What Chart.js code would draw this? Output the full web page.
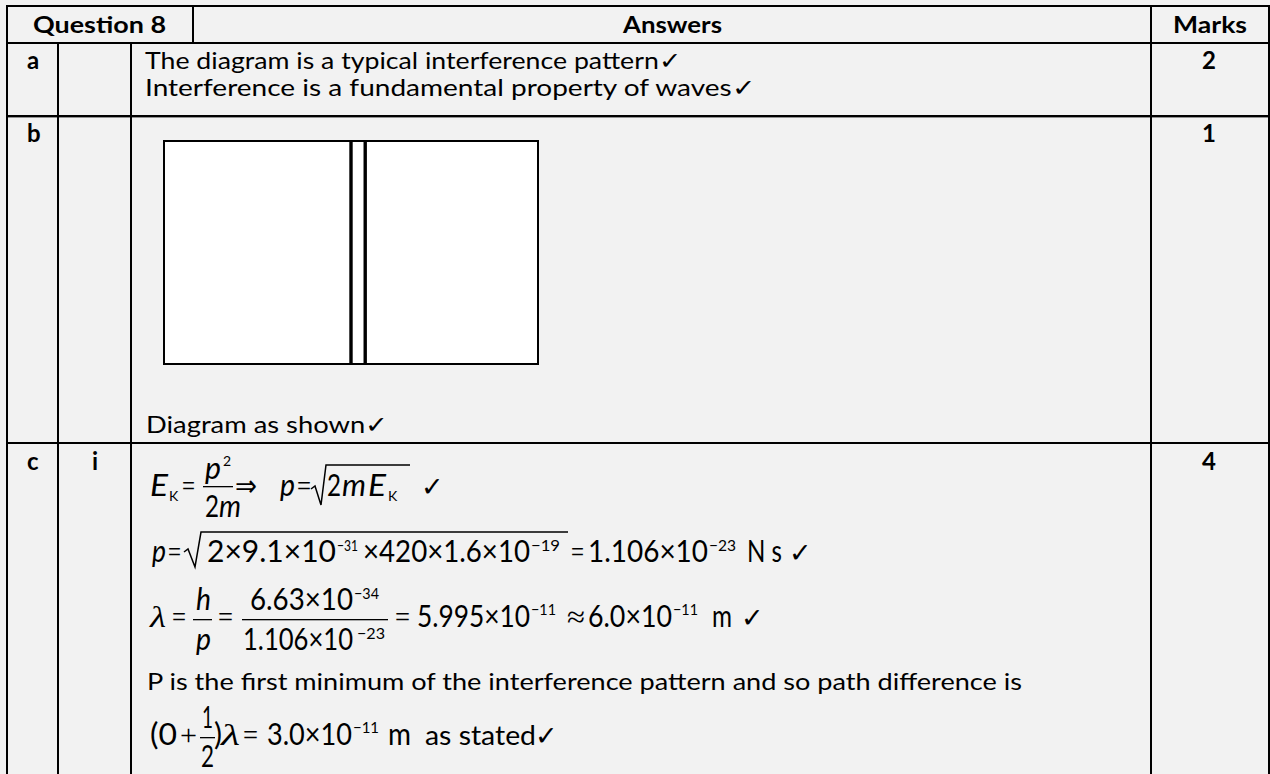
<!DOCTYPE html>
<html><head><meta charset="utf-8">
<script src="https://cdn.jsdelivr.net/npm/chart.js@4.4.1/dist/chart.umd.min.js"></script>
<style>
html,body{margin:0;padding:0;background:#f2f2f2;}
#page{position:relative;width:1270px;height:774px;overflow:hidden;background:#f2f2f2;}
svg{position:absolute;left:0;top:0;}
#diag{position:absolute;left:154px;top:131px;}
text{font-family:Lato,'Open Sans',sans-serif;fill:#000;}
.b{font-weight:bold;}
.h{font-size:22px;}
.l{font-size:24px;}
.t{font-size:24px;}
.m{font-size:30px;}
.s{font-size:16px;}
.k{font-size:14px;}
.i{font-style:italic;}
.sym{font-family:'Liberation Serif','DejaVu Serif',serif;}
.ar{font-family:'DejaVu Sans',sans-serif;}
.ck{font-family:'DejaVu Sans',sans-serif;font-size:27px;font-weight:bold;}
</style></head>
<body>
<div id="page">
<svg width="1270" height="774" viewBox="0 0 1270 774">
  <!-- table rules -->
  <rect x="6" y="5" width="1264" height="2" fill="#000"/>
  <rect x="6" y="42" width="1264" height="2" fill="#000"/>
  <rect x="6" y="115" width="1264" height="2.4" fill="#000"/>
  <rect x="6" y="442" width="1264" height="2" fill="#000"/>
  <rect x="6" y="5" width="2" height="769" fill="#000"/>
  <rect x="57" y="42" width="2" height="732" fill="#000"/>
  <rect x="130" y="42" width="2" height="732" fill="#000"/>
  <rect x="192" y="5" width="2" height="38" fill="#000"/>
  <rect x="1150" y="5" width="2" height="769" fill="#000"/>
  <rect x="1268" y="5" width="2" height="769" fill="#000"/>

  <!-- header -->
  <text class="b h" x="33" y="33" textLength="133" lengthAdjust="spacingAndGlyphs">Question 8</text>
  <text class="b h" x="623" y="33" textLength="99" lengthAdjust="spacingAndGlyphs">Answers</text>
  <text class="b h" x="1173" y="33" textLength="74" lengthAdjust="spacingAndGlyphs">Marks</text>

  <!-- row labels -->
  <text class="b l" x="27" y="69">a</text>
  <text class="b l" x="27" y="142">b</text>
  <text class="b l" x="27" y="470">c</text>
  <text class="b l" x="92" y="470">i</text>
  <text class="b l" x="1209" y="69" text-anchor="middle">2</text>
  <text class="b l" x="1209" y="142" text-anchor="middle">1</text>
  <text class="b l" x="1209" y="470" text-anchor="middle">4</text>

  <!-- row a -->
  <text class="t" x="145" y="69" textLength="536" lengthAdjust="spacingAndGlyphs">The diagram is a typical interference pattern✓</text>
  <text class="t" x="145" y="96" textLength="610" lengthAdjust="spacingAndGlyphs">Interference is a fundamental property of waves✓</text>

  <!-- row b -->
  <text class="t" x="146" y="433" textLength="242" lengthAdjust="spacingAndGlyphs">Diagram as shown✓</text>

  <!-- row c line 1 -->
  <text class="m i" x="150" y="496" textLength="18" lengthAdjust="spacingAndGlyphs">E</text>
  <text class="k" x="169" y="501">K</text>
  <text class="m sym" x="182" y="496" textLength="13" lengthAdjust="spacingAndGlyphs">=</text>
  <text class="m i" x="205" y="479" textLength="16" lengthAdjust="spacingAndGlyphs">p</text>
  <text class="k" x="223" y="466">2</text>
  <rect x="203" y="486" width="30" height="1.3" fill="#000"/>
  <text class="m" x="205" y="517" textLength="14" lengthAdjust="spacingAndGlyphs">2</text>
  <text class="m i" x="219" y="517" textLength="22" lengthAdjust="spacingAndGlyphs">m</text>
  <text class="m ar" x="235" y="496" textLength="22" lengthAdjust="spacingAndGlyphs">⇒</text>
  <text class="m i" x="280" y="496" textLength="15" lengthAdjust="spacingAndGlyphs">p</text>
  <text class="m sym" x="297" y="496" textLength="14" lengthAdjust="spacingAndGlyphs">=</text>
  <path d="M311 489 L315 486 L321 505 L326 465 L410 465" stroke="#000" stroke-width="1.5" fill="none"/>
  <text class="m" x="327" y="496" textLength="14" lengthAdjust="spacingAndGlyphs">2</text>
  <text class="m i" x="342" y="496" textLength="24" lengthAdjust="spacingAndGlyphs">m</text>
  <text class="m i" x="368" y="496" textLength="18" lengthAdjust="spacingAndGlyphs">E</text>
  <text class="k" x="388" y="501">K</text>
  <text class="ck" x="421" y="496">✓</text>

  <!-- row c line 2 -->
  <text class="m i" x="152" y="562" textLength="14" lengthAdjust="spacingAndGlyphs">p</text>
  <text class="m sym" x="168" y="562" textLength="13" lengthAdjust="spacingAndGlyphs">=</text>
  <path d="M184 552 L188 549 L195 567 L201 532 L568 532" stroke="#000" stroke-width="1.5" fill="none"/>
  <text class="m" x="207" y="562" textLength="129" lengthAdjust="spacingAndGlyphs">2×9.1×10</text>
  <text class="s" x="337" y="551" textLength="21" lengthAdjust="spacingAndGlyphs">−31</text>
  <text class="m" x="363" y="562" textLength="167" lengthAdjust="spacingAndGlyphs">×420×1.6×10</text>
  <text class="s" x="531" y="551" textLength="29" lengthAdjust="spacingAndGlyphs">−19</text>
  <text class="m sym" x="571" y="562" textLength="13" lengthAdjust="spacingAndGlyphs">=</text>
  <text class="m" x="588" y="562" textLength="120" lengthAdjust="spacingAndGlyphs">1.106×10</text>
  <text class="s" x="709" y="551" textLength="27" lengthAdjust="spacingAndGlyphs">−23</text>
  <text class="m" x="747" y="562" textLength="35" lengthAdjust="spacingAndGlyphs">N s</text>
  <text class="ck" x="789" y="562">✓</text>

  <!-- row c line 3 -->
  <text class="m i sym" x="150" y="627" textLength="16" lengthAdjust="spacingAndGlyphs">λ</text>
  <text class="m sym" x="172" y="627" textLength="14" lengthAdjust="spacingAndGlyphs">=</text>
  <text class="m i" x="196" y="610" textLength="15" lengthAdjust="spacingAndGlyphs">h</text>
  <rect x="193" y="619" width="19" height="1.3" fill="#000"/>
  <text class="m i" x="196" y="650" textLength="15" lengthAdjust="spacingAndGlyphs">p</text>
  <text class="m sym" x="218" y="627" textLength="15" lengthAdjust="spacingAndGlyphs">=</text>
  <text class="m" x="250" y="610" textLength="103" lengthAdjust="spacingAndGlyphs">6.63×10</text>
  <text class="s" x="354" y="599" textLength="25" lengthAdjust="spacingAndGlyphs">−34</text>
  <rect x="242" y="619" width="146" height="1.3" fill="#000"/>
  <text class="m" x="243" y="650" textLength="110" lengthAdjust="spacingAndGlyphs">1.106×10</text>
  <text class="s" x="357" y="639" textLength="28" lengthAdjust="spacingAndGlyphs">−23</text>
  <text class="m sym" x="395" y="627" textLength="15" lengthAdjust="spacingAndGlyphs">=</text>
  <text class="m" x="417" y="627" textLength="113" lengthAdjust="spacingAndGlyphs">5.995×10</text>
  <text class="s" x="531" y="615" textLength="25" lengthAdjust="spacingAndGlyphs">−11</text>
  <text class="m sym" x="567" y="627" textLength="18" lengthAdjust="spacingAndGlyphs">≈</text>
  <text class="m" x="588" y="627" textLength="84" lengthAdjust="spacingAndGlyphs">6.0×10</text>
  <text class="s" x="673" y="615" textLength="25" lengthAdjust="spacingAndGlyphs">−11</text>
  <text class="m" x="712" y="627" textLength="20" lengthAdjust="spacingAndGlyphs">m</text>
  <text class="ck" x="741" y="627">✓</text>

  <!-- row c line 4 -->
  <text class="t" x="147" y="690" textLength="875" lengthAdjust="spacingAndGlyphs">P is the first minimum of the interference pattern and so path difference is</text>

  <!-- row c line 5 -->
  <text class="m" x="150" y="745" textLength="27" lengthAdjust="spacingAndGlyphs">(0</text>
  <text class="m sym" x="180" y="745" textLength="17" lengthAdjust="spacingAndGlyphs">+</text>
  <text class="m" x="202" y="728" textLength="11" lengthAdjust="spacingAndGlyphs">1</text>
  <rect x="200" y="737" width="15" height="1.3" fill="#000"/>
  <text class="m" x="201" y="767" textLength="13" lengthAdjust="spacingAndGlyphs">2</text>
  <text class="m" x="214" y="745" textLength="8" lengthAdjust="spacingAndGlyphs">)</text>
  <text class="m i sym" x="221" y="745" textLength="19" lengthAdjust="spacingAndGlyphs">λ</text>
  <text class="m sym" x="243" y="745" textLength="15" lengthAdjust="spacingAndGlyphs">=</text>
  <text class="m" x="267" y="745" textLength="85" lengthAdjust="spacingAndGlyphs">3.0×10</text>
  <text class="s" x="353" y="733" textLength="26" lengthAdjust="spacingAndGlyphs">−11</text>
  <text class="m" x="388" y="745" textLength="23" lengthAdjust="spacingAndGlyphs">m</text>
  <text class="m" x="425" y="745" style="font-size:27px" textLength="111" lengthAdjust="spacingAndGlyphs">as stated</text>
  <text class="ck" x="535" y="745">✓</text>
</svg>
<canvas id="diag" width="394" height="243"></canvas>
</div>
<script>
// Part (b) diagram: screen outline with a double line (two slits), in 0..100 units
const boxX = [0, 100, 100, 0, 0];
const boxY = [0, 0, 100, 100, 0];
const slitX = [50.0, 53.8];
const slitY = [0, 100];
const fillX = [0, 100];
const fillY = [100, 100];

const pts = (xs, ys) => xs.map((x, i) => ({ x: x, y: ys[i] }));

const datasets = [
  { data: pts(boxX, boxY), showLine: true, borderColor: '#000', borderWidth: 2,
    pointRadius: 0, fill: false, clip: false, order: 1,
    borderJoinStyle: 'miter', borderCapStyle: 'square' }
];
slitX.forEach(function (sx) {
  datasets.push({ data: pts([sx, sx], slitY), showLine: true, borderColor: '#000',
    borderWidth: 3.4, pointRadius: 0, fill: false, clip: false, order: 1 });
});
datasets.push({ data: pts(fillX, fillY), showLine: true, borderWidth: 0,
  borderColor: 'rgba(0,0,0,0)', backgroundColor: '#ffffff', fill: 'origin',
  pointRadius: 0, clip: false, order: 5 });

new Chart(document.getElementById('diag'), {
  type: 'scatter',
  data: { datasets: datasets },
  options: {
    responsive: false,
    animation: false,
    events: [],
    layout: { padding: 10 },
    scales: {
      x: { type: 'linear', min: 0, max: 100, display: false },
      y: { type: 'linear', min: 0, max: 100, display: false }
    },
    plugins: {
      legend: { display: false },
      tooltip: { enabled: false },
      filler: { drawTime: 'beforeDatasetsDraw' }
    }
  }
});
</script>
</body></html>
